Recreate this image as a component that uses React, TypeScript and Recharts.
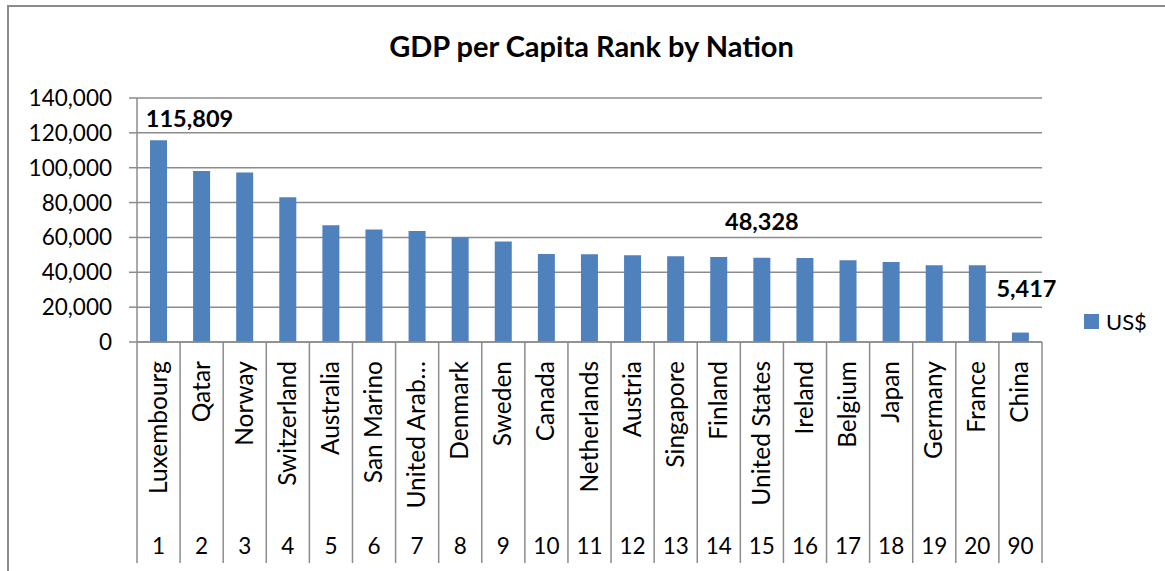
import React from 'react';
import { BarChart, Bar, XAxis, YAxis, CartesianGrid, Legend, LabelList } from 'recharts';

const nations = [
  'Luxembourg', 'Qatar', 'Norway', 'Switzerland', 'Australia', 'San Marino', 'United Arab…',
  'Denmark', 'Sweden', 'Canada', 'Netherlands', 'Austria', 'Singapore', 'Finland',
  'United States', 'Ireland', 'Belgium', 'Japan', 'Germany', 'France', 'China',
];
const ranks = ['1', '2', '3', '4', '5', '6', '7', '8', '9', '10', '11', '12', '13', '14', '15', '16', '17', '18', '19', '20', '90'];
const gdpUsd = [
  115809, 98144, 97255, 83073, 66984, 64500, 63625, 59928, 57638, 50436, 50355,
  49809, 49271, 48783, 48328, 48260, 46878, 45920, 44060, 44008, 5417,
];
const yTicks = [0, 20000, 40000, 60000, 80000, 100000, 120000, 140000];
// only these bars carry a value label in the original
const labelled = [0, 14, 20];

const FONT = 'Lato, "Open Sans", sans-serif';
const GRID = '#8c8c8c';
const BLUE = '#4f81bd';

const W = 1165;
const H = 571;
const PLOT_LEFT = 137;
const PLOT_RIGHT = 1042;
const BAND = (PLOT_RIGHT - PLOT_LEFT) / nations.length;

// hand-placed label offsets (relative to bar centre / bar top)
const labelShift: Record<number, { dx: number; dy: number }> = {
  0: { dx: 31, dy: -13 },
  14: { dx: 0, dy: -28 },
  20: { dx: 6, dy: -36 },
};

const data = nations.map((name, i) => ({ name, rank: ranks[i], usd: gdpUsd[i] }));

const fmt = (v: number) => v.toLocaleString('en-US');

function CategoryTick(props: any) {
  const { x, y, payload } = props;
  const i = payload.index;
  const half = BAND / 2;
  return (
    <g>
      <line x1={x - half} x2={x - half} y1={y} y2={563} stroke={GRID} strokeWidth={1.5} />
      {i === nations.length - 1 && (
        <line x1={x + half} x2={x + half} y1={y} y2={563} stroke={GRID} strokeWidth={1.5} />
      )}
      <text
        transform={`translate(${x + 8},${y + 19}) rotate(-90)`}
        textAnchor="end"
        fontSize={24.5}
        fontFamily={FONT}
        fill="#000"
      >
        {nations[i]}
      </text>
      <text x={x} y={y + 212} textAnchor="middle" fontSize={22.5} fontFamily={FONT} fill="#000">
        {ranks[i]}
      </text>
    </g>
  );
}

function ValueLabel(props: any) {
  const { x, y, width, index, value } = props;
  if (!labelled.includes(index)) return null;
  const s = labelShift[index];
  return (
    <text
      x={x + width / 2 + s.dx}
      y={y + s.dy}
      textAnchor="middle"
      fontSize={23.5}
      fontWeight="bold"
      fontFamily={FONT}
      fill="#000"
    >
      {fmt(value)}
    </text>
  );
}

function LegendBox() {
  return (
    <div style={{ display: 'flex', alignItems: 'center', fontFamily: FONT, fontSize: 22 }}>
      <span style={{ width: 15, height: 15, background: BLUE, display: 'inline-block', marginRight: 7 }} />
      <span>US$</span>
    </div>
  );
}

export default function App() {
  return (
    <div style={{ position: 'absolute', left: 0, top: 0, width: W, height: H, overflow: 'hidden', background: '#fff' }}>
      <div
        style={{
          position: 'absolute',
          left: 7,
          top: 5,
          width: W,
          height: H,
          borderTop: `2px solid ${GRID}`,
          borderLeft: `2px solid ${GRID}`,
        }}
      />
      <div
        style={{
          position: 'absolute',
          left: 0,
          top: 28,
          width: 1183,
          textAlign: 'center',
          fontFamily: FONT,
          fontWeight: 'bold',
          fontSize: 29,
          color: '#000',
        }}
      >
        GDP per Capita Rank by Nation
      </div>
      <div style={{ position: 'absolute', left: 0, top: 0 }}>
        <BarChart
          width={W}
          height={H}
          data={data}
          margin={{ top: 98, right: W - PLOT_RIGHT, bottom: 0, left: 0 }}
        >
          <CartesianGrid vertical={false} stroke={GRID} strokeWidth={1.5} />
          <XAxis
            dataKey="name"
            height={H - 342}
            interval={0}
            tickLine={false}
            tickSize={0}
            tickMargin={0}
            axisLine={{ stroke: GRID, strokeWidth: 1.5 }}
            tick={<CategoryTick />}
          />
          <YAxis
            width={PLOT_LEFT}
            domain={[0, 140000]}
            ticks={yTicks}
            interval={0}
            tickFormatter={fmt}
            tickSize={8}
            tickMargin={17}
            axisLine={{ stroke: GRID, strokeWidth: 1.5 }}
            tickLine={{ stroke: GRID, strokeWidth: 1.5 }}
            tick={{ fill: '#000', fontSize: 22.5, fontFamily: FONT }}
          />
          <Legend
            layout="horizontal"
            verticalAlign="middle"
            align="center"
            wrapperStyle={{ position: 'absolute', left: 1084, top: 308, width: 80 }}
            content={<LegendBox />}
          />
          <Bar dataKey="usd" name="US$" fill={BLUE} barSize={17} isAnimationActive={false}>
            <LabelList dataKey="usd" content={<ValueLabel />} />
          </Bar>
        </BarChart>
      </div>
    </div>
  );
}
